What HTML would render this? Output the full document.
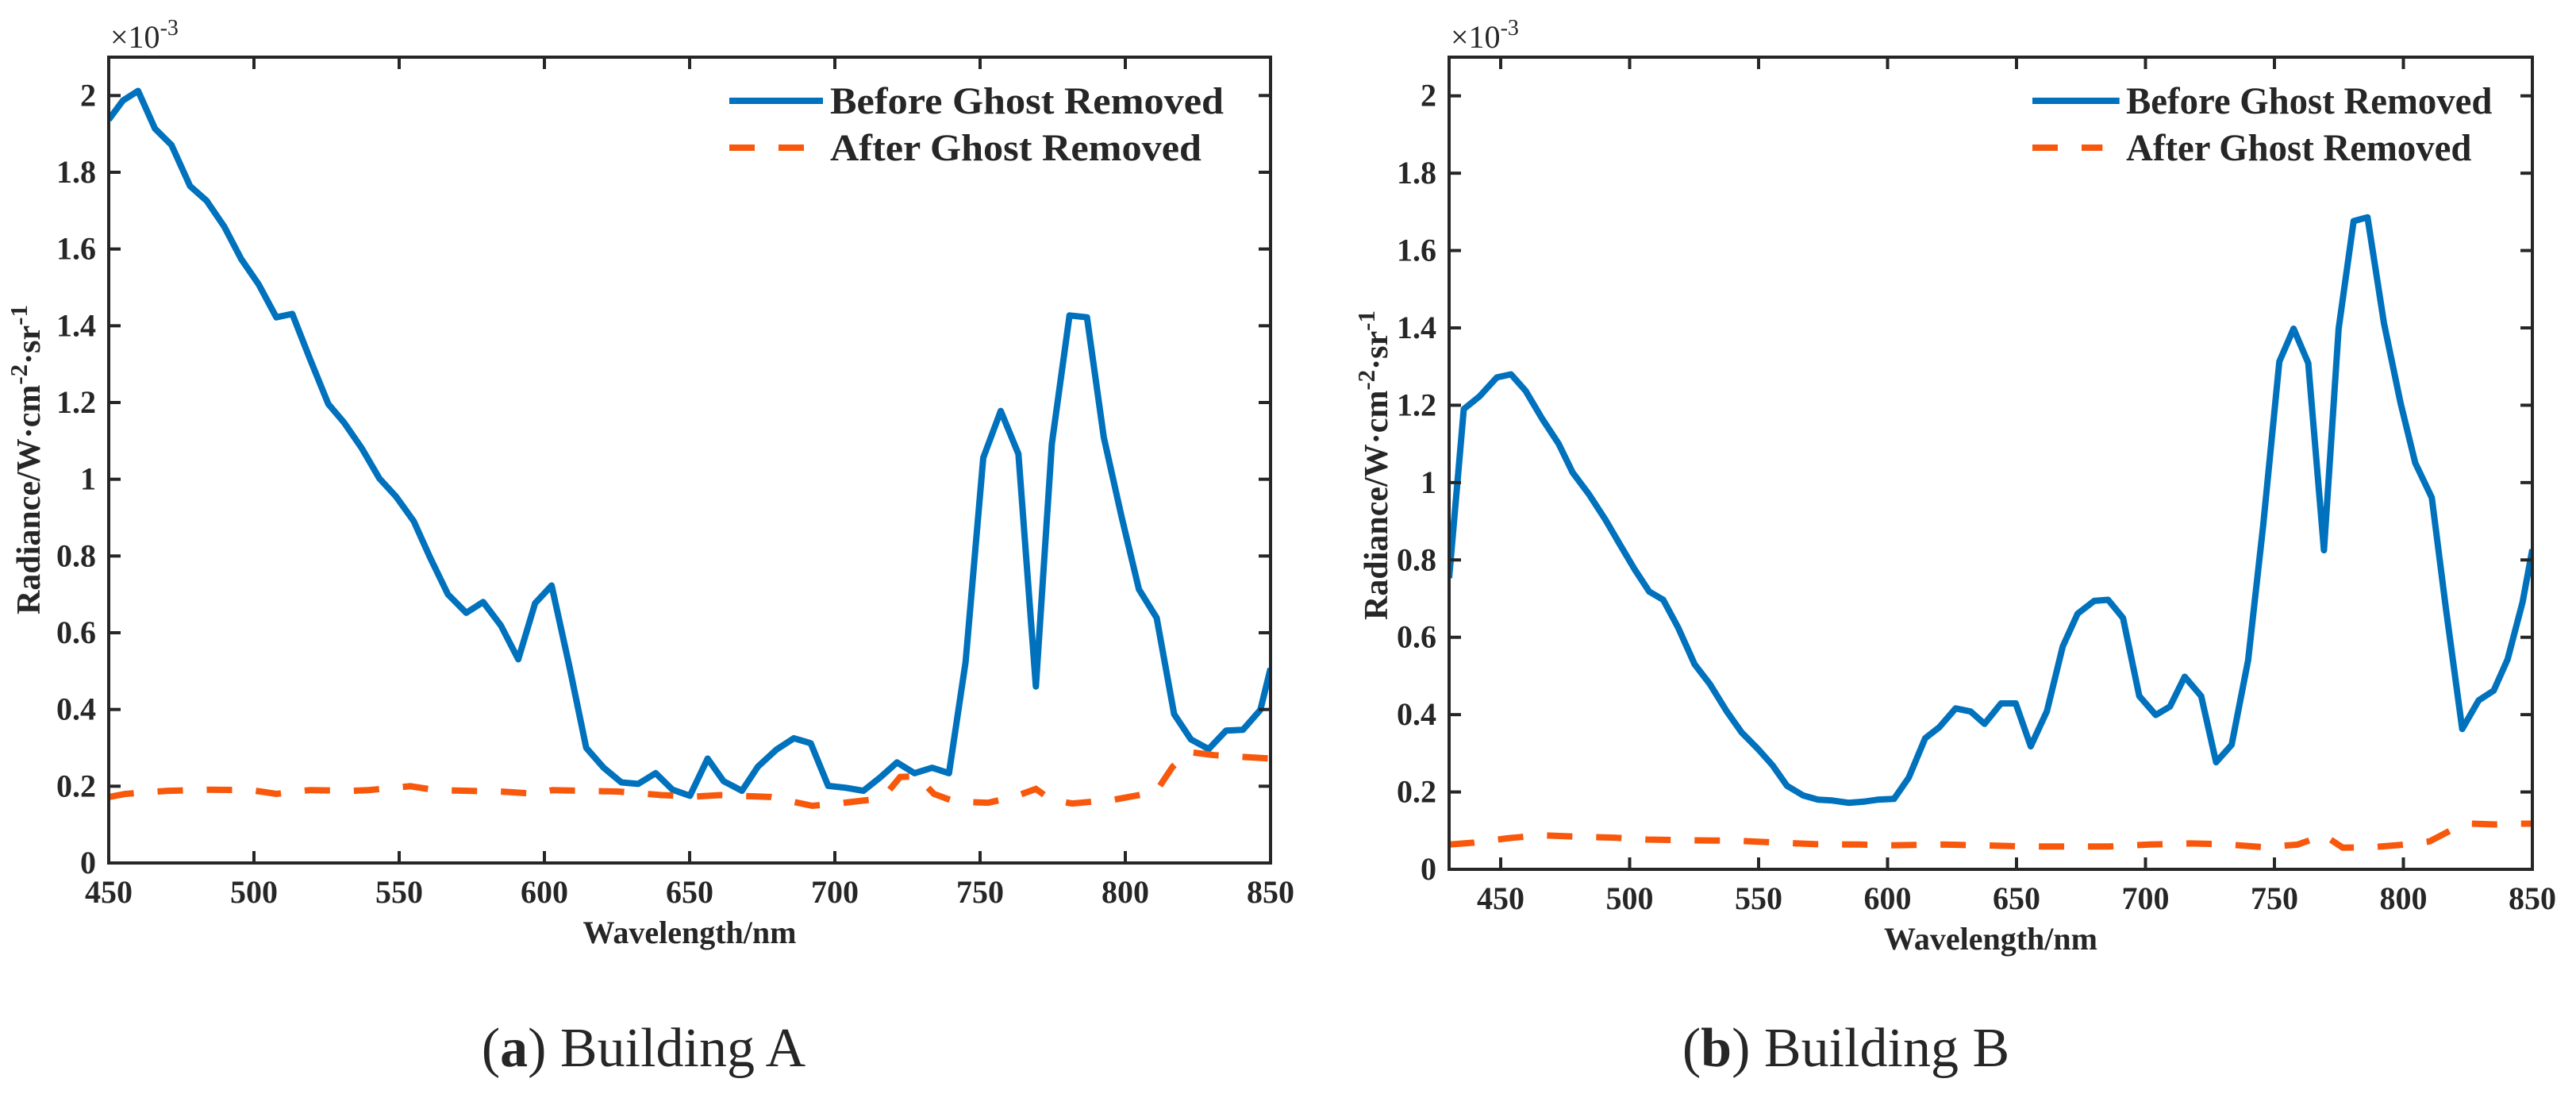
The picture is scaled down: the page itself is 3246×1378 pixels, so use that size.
<!DOCTYPE html>
<html><head><meta charset="utf-8"><style>
html,body{margin:0;padding:0;background:#fff;}
svg{display:block;}
text{font-family:"Liberation Serif","Times New Roman",serif;fill:#262626;}
</style></head><body>
<svg id="fig" width="3246" height="1378" viewBox="0 0 3246 1378" xmlns="http://www.w3.org/2000/svg">
<text x="811" y="1343" font-size="70" text-anchor="middle">(<tspan font-weight="bold">a</tspan>) Building A</text>
<text x="2326" y="1343" font-size="70" text-anchor="middle">(<tspan font-weight="bold">b</tspan>) Building B</text>
</svg>
<script>
// ---- Chart A data ----
const wlA_before = [450,454.9,460.1,465.9,471.6,478.0,483.7,489.8,495.6,501.6,507.7,513.2,519.2,525.6,531.1,537.1,543.2,548.9,555.0,560.7,566.8,573.1,578.9,585.0,591.0,596.8,602.5,608.6,614.4,620.4,626.5,632.3,638.3,644.1,650.1,656.2,661.7,668.0,673.5,679.8,685.9,691.7,697.7,703.8,709.8,715.6,721.4,727.4,733.5,739.3,745.0,751.1,757.1,763.2,769.2,774.7,780.8,786.8,792.6,798.7,804.7,810.8,816.8,822.6,828.7,834.7,840.5,846.5,850];
const valA_before = [1.937,1.987,2.012,1.914,1.871,1.764,1.726,1.658,1.574,1.508,1.422,1.431,1.315,1.196,1.147,1.081,1.002,0.955,0.891,0.795,0.700,0.652,0.680,0.619,0.531,0.677,0.723,0.512,0.300,0.248,0.210,0.206,0.234,0.191,0.175,0.272,0.213,0.188,0.251,0.295,0.325,0.312,0.201,0.196,0.188,0.223,0.262,0.234,0.248,0.234,0.523,1.056,1.178,1.066,0.460,1.092,1.427,1.422,1.109,0.903,0.713,0.639,0.388,0.322,0.297,0.345,0.347,0.399,0.507];
const wlA_after = [450,455.8,470.2,484.6,499.0,507.7,519.2,533.6,539.4,553.8,562.5,585.5,597.1,602.8,625.9,640.3,651.9,660.5,677.8,692.2,700.9,712.4,718.2,722.5,728.3,734.1,741.3,752.8,761.5,769.2,774.4,781.7,796.1,810.5,816.3,822.0,830.7,850];
const valA_after = [0.172,0.180,0.188,0.191,0.190,0.180,0.190,0.188,0.190,0.200,0.190,0.186,0.180,0.190,0.186,0.177,0.173,0.177,0.172,0.149,0.155,0.165,0.185,0.224,0.226,0.180,0.160,0.157,0.172,0.193,0.165,0.155,0.165,0.185,0.251,0.289,0.281,0.272];
// ---- Chart B data ----
const wlB_before = [430,435.7,441.8,448.5,454.0,459.7,466.1,472.5,477.9,484.3,490.7,496.4,501.9,507.6,513.0,518.8,525.2,531.2,537.6,543.4,549.8,555.5,561.0,567.3,573.1,578.5,584.9,590.7,596.1,602.5,608.2,614.6,620.0,626.4,632.2,637.6,644.0,649.7,655.5,661.8,667.9,673.7,680.1,685.5,691.3,697.6,704.0,709.5,715.2,721.6,727.4,733.4,739.8,745.6,751.9,757.4,763.1,769.2,774.9,780.7,786.1,792.5,798.9,804.6,811.0,816.5,822.8,829.2,835.0,840.4,846.2,850];
const valB_before = [0.753,1.190,1.223,1.272,1.280,1.237,1.165,1.100,1.026,0.969,0.903,0.838,0.776,0.718,0.697,0.625,0.530,0.478,0.409,0.354,0.311,0.268,0.216,0.191,0.180,0.178,0.172,0.175,0.180,0.182,0.237,0.339,0.367,0.416,0.408,0.376,0.429,0.429,0.318,0.409,0.576,0.661,0.694,0.697,0.650,0.448,0.399,0.421,0.498,0.448,0.277,0.322,0.540,0.887,1.313,1.398,1.309,0.825,1.398,1.676,1.686,1.411,1.206,1.051,0.961,0.674,0.363,0.437,0.462,0.543,0.691,0.827];
const wlB_after = [430,439.6,452.4,465.1,477.9,493.9,506.7,525.8,541.8,557.8,571.7,589.7,599.3,621.6,637.6,653.6,669.5,685.5,701.5,717.4,730.2,746.2,759.0,769.2,776.5,787.7,800.5,810.1,819.6,826.0,835.6,845.2,850];
const valB_after = [0.064,0.069,0.080,0.088,0.085,0.082,0.077,0.075,0.074,0.069,0.065,0.064,0.062,0.064,0.062,0.059,0.059,0.059,0.064,0.067,0.065,0.057,0.064,0.088,0.056,0.057,0.064,0.072,0.105,0.118,0.116,0.118,0.118];
const yTickVals = [0,0.2,0.4,0.6,0.8,1,1.2,1.4,1.6,1.8,2];
const yTickLabels = ["0","0.2","0.4","0.6","0.8","1","1.2","1.4","1.6","1.8","2"];
const xTickVals = [450,500,550,600,650,700,750,800,850];
const xTickLabels = ["450","500","550","600","650","700","750","800","850"];
const legendLabels = ["Before Ghost Removed","After Ghost Removed"];

const NS = "http://www.w3.org/2000/svg";
const svg = document.getElementById("fig");
function mk(tag, attrs, parent){ const e=document.createElementNS(NS,tag); for(const k in attrs) e.setAttribute(k,attrs[k]); (parent||svg).appendChild(e); return e; }

function drawChart(id, box, xmin, xmax, wlB, vB, wlA, vA, yTitle, leg){
  const g = mk("g",{});
  
  
  const L=box.l, R=box.r, T=box.t, B=box.b;
  const sx = v => L + (v - xmin) / (xmax - xmin) * (R - L);
  const sy = v => B - v / 2.1 * (B - T);
  const cp = mk("clipPath",{id:id+"-clip"},g);
  mk("rect",{x:L,y:T,width:R-L,height:B-T},cp);
  const pts = (w,v) => w.map((x,i)=>sx(x).toFixed(1)+","+sy(v[i]).toFixed(1)).join(" ");
  const lb = mk("polyline",{points:pts(wlB,vB),fill:"none",stroke:"#0072BD","stroke-width":8,"stroke-linejoin":"round","clip-path":"url(#"+id+"-clip)"},g);
  
  
  const la = mk("polyline",{points:pts(wlA,vA),fill:"none",stroke:"#F8580C","stroke-width":8,"stroke-dasharray":"32 30","clip-path":"url(#"+id+"-clip)"},g);
  
  
  const ax = mk("rect",{x:L,y:T,width:R-L,height:B-T,fill:"none",stroke:"#262626","stroke-width":4},g);
  
  
  yTickVals.forEach((v,i)=>{
    const y=sy(v);
    mk("line",{x1:L,x2:L+15,y1:y,y2:y,stroke:"#262626","stroke-width":4},g);
    mk("line",{x1:R,x2:R-15,y1:y,y2:y,stroke:"#262626","stroke-width":4},g);
    const t=mk("text",{x:L-16,y:y+13,"font-size":40,"font-weight":"bold","text-anchor":"end"},g);
    t.textContent=yTickLabels[i];
    
    
  });
  xTickVals.forEach((v,i)=>{
    const x=sx(v);
    mk("line",{x1:x,x2:x,y1:B,y2:B-15,stroke:"#262626","stroke-width":4},g);
    mk("line",{x1:x,x2:x,y1:T,y2:T+15,stroke:"#262626","stroke-width":4},g);
    const t=mk("text",{x:x,y:B+50,"font-size":40,"font-weight":"bold","text-anchor":"middle"},g);
    t.textContent=xTickLabels[i];
    
    
  });
  const m=mk("text",{x:L+2,y:T-12,"font-size":40},g);
  m.innerHTML='×10<tspan font-size="28" dy="-16">-3</tspan>';
  
  
  const xt=mk("text",{x:(L+R)/2,y:B+101,"font-size":40,"font-weight":"bold","text-anchor":"middle"},g);
  xt.textContent="Wavelength/nm";
  
  
  const yt=mk("text",{x:0,y:0,"font-size":42,"font-weight":"bold","text-anchor":"middle",transform:"translate("+yTitle.x+","+yTitle.y+") rotate(-90)"},g);
  yt.innerHTML='Radiance/W·cm<tspan font-size="31" dy="-16">-2</tspan><tspan dy="16">·sr</tspan><tspan font-size="31" dy="-16">-1</tspan>';
  
  
  const lg = mk("g",{},g);
  
  
  const s = leg.s;
  mk("line",{x1:leg.x,x2:leg.x+118*s,y1:T+55,y2:T+55,stroke:"#0072BD","stroke-width":8},lg);
  mk("line",{x1:leg.x,x2:leg.x+95*s,y1:T+114,y2:T+114,stroke:"#F8580C","stroke-width":8,"stroke-dasharray":"32 30"},lg);
  const t1=mk("text",{x:leg.x+127*s,y:T+71,"font-size":48,"font-weight":"bold",textLength:496*s,lengthAdjust:"spacingAndGlyphs"},lg);
  t1.textContent=legendLabels[0];
  
  
  const t2=mk("text",{x:leg.x+127*s,y:T+130,"font-size":48,"font-weight":"bold",textLength:468*s,lengthAdjust:"spacingAndGlyphs"},lg);
  t2.textContent=legendLabels[1];
  
  
}
drawChart("chart-building-a",{l:137,r:1601,t:72,b:1087},450,850,wlA_before,valA_before,wlA_after,valA_after,{x:50,y:579},{x:919,s:1});
drawChart("chart-building-b",{l:1826,r:3191,t:72,b:1095},430,850,wlB_before,valB_before,wlB_after,valB_after,{x:1748,y:586},{x:2561,s:0.93});
</script>
</body></html>
